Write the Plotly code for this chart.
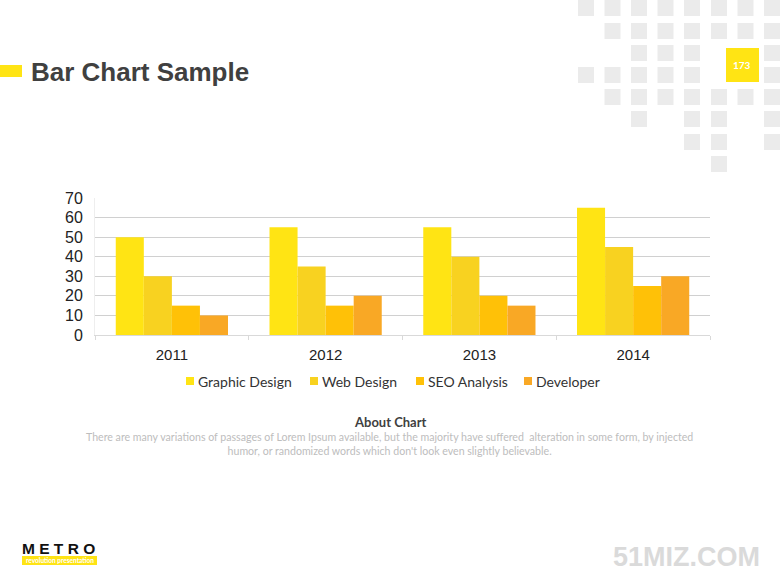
import plotly.graph_objects as go

years = ["2011", "2012", "2013", "2014"]
graphic_design = [50, 55, 55, 65]
web_design = [30, 35, 40, 45]
seo_analysis = [15, 15, 20, 25]
developer = [10, 20, 15, 30]
series_names = ["Graphic Design", "Web Design", "SEO Analysis", "Developer"]
series_colors = ["#FFE414", "#F8D220", "#FFC107", "#F9A825"]

W, H = 780, 585
L, R, T, B = 95, 710, 198, 335  # plot area in window pixels


def px(x):
    return (x - L) / (R - L)


def py(y):
    return (B - y) / (B - T)


fig = go.Figure()
for name, vals, col in zip(series_names, [graphic_design, web_design, seo_analysis, developer], series_colors):
    fig.add_trace(go.Bar(name=name, x=years, y=vals, marker=dict(color=col, line=dict(width=0)),
                         showlegend=False))

shapes = []
# decorative grey squares (top right)
cols = [578, 604.5, 631, 657.5, 684, 711, 737.5, 764]
rows = [0, 23, 45, 67, 89, 111, 134, 156]
pattern = [
    [0, 1, 2, 3, 4, 5, 6, 7],
    [1, 2, 3, 4, 5, 6, 7],
    [2, 3, 4, 7],
    [0, 1, 2, 3, 4, 7],
    [1, 2, 3, 4, 5, 6, 7],
    [2, 4, 5, 7],
    [4, 5, 7],
    [5],
]
for ri, cl in enumerate(pattern):
    for ci in cl:
        x0 = cols[ci]
        y0 = rows[ri]
        shapes.append(dict(type="rect", xref="paper", yref="paper",
                           x0=px(x0), x1=px(x0 + 16), y0=py(y0 if ri > 0 else -10), y1=py(y0 + 16),
                           fillcolor="#EBEBEB", line=dict(width=0), layer="below"))
# yellow page-number square
shapes.append(dict(type="rect", xref="paper", yref="paper", x0=px(726), x1=px(759), y0=py(48), y1=py(82),
                   fillcolor="#FFE414", line=dict(width=0)))
# yellow title marker
shapes.append(dict(type="rect", xref="paper", yref="paper", x0=px(-10), x1=px(22), y0=py(65), y1=py(77),
                   fillcolor="#FFE414", line=dict(width=0)))
# logo yellow bar
shapes.append(dict(type="rect", xref="paper", yref="paper", x0=px(22), x1=px(97), y0=py(556), y1=py(565),
                   fillcolor="#FFE414", line=dict(width=0)))


def ann(text, x, y, size, color, family="Lato", xanchor="center", yanchor="middle", align="center"):
    return dict(text=text, x=px(x), y=py(y), xref="paper", yref="paper", showarrow=False,
                xanchor=xanchor, yanchor=yanchor, align=align,
                font=dict(family=family, size=size, color=color))


annotations = [
    ann("<b>173</b>", 742.5, 65, 10, "#FFFFFF"),
    ann("<b>Bar Chart Sample</b>", 29, 72, 26, "#404040", family="Liberation Sans", xanchor="left"),
    ann("<b>About Chart</b>", 390, 422, 13, "#404040"),
    ann("There are many variations of passages of Lorem Ipsum available, but the majority have suffered  alteration in some form, by injected<br>humor, or randomized words which don't look even slightly believable.",
        389, 444, 10.6, "#BDBDBD"),
    ann("<b>M E T R O</b>", 20, 548, 15.5, "#111111", family="Liberation Sans", xanchor="left"),
    ann("<b>revolution presentation</b>", 59.5, 560.5, 6.5, "#FFFFFF"),
    ann("<b>51MIZ.COM</b>", 686, 557, 27, "#DADADA", family="Liberation Sans"),
]

# legend (drawn from the series names/colours)
legend_x = [186, 310, 416, 524]
legend_y = 381
for name, col, lx in zip(series_names, series_colors, legend_x):
    shapes.append(dict(type="rect", xref="paper", yref="paper", x0=px(lx), x1=px(lx + 8),
                       y0=py(legend_y - 4), y1=py(legend_y + 4), fillcolor=col, line=dict(width=0)))
    annotations.append(ann(name, lx + 10, legend_y, 14, "#333333", xanchor="left"))

fig.update_layout(
    width=W, height=H, autosize=False,
    margin=dict(l=L, r=W - R, t=T, b=H - B, pad=0),
    paper_bgcolor="#FFFFFF", plot_bgcolor="rgba(0,0,0,0)",
    barmode="group", bargap=0.27, bargroupgap=0,
    showlegend=False,
    shapes=shapes, annotations=annotations,
    xaxis=dict(type="category", showline=True, linecolor="#D9D9D9", linewidth=1,
               ticks="outside", tickson="boundaries", ticklen=4, tickcolor="#D9D9D9",
               tickfont=dict(family="Liberation Sans", size=15, color="#222222"),
               ticklabelstandoff=6, showgrid=False, fixedrange=True),
    yaxis=dict(range=[0, 70], dtick=10, showgrid=True, gridcolor="#D0D0D0", gridwidth=1,
               showline=True, linecolor="#EEEEEE", zeroline=False,
               tickfont=dict(family="Liberation Sans", size=16, color="#222222"),
               ticklabelstandoff=8, fixedrange=True),
)

fig.write_html("out.html", config={"displayModeBar": False},
               post_script="document.body.style.margin='0';document.body.style.overflow='hidden';")
